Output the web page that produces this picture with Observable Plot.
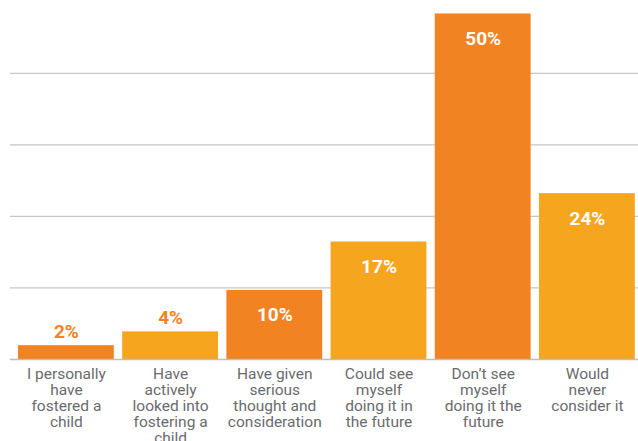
<!DOCTYPE html>
<html>
<head>
<meta charset="utf-8">
<script src="https://cdn.jsdelivr.net/npm/d3@7"></script>
<script src="https://cdn.jsdelivr.net/npm/@observablehq/plot@0.6"></script>
<style>
  html, body { margin: 0; padding: 0; background: #fff; }
  #chart svg { display: block; }
</style>
</head>
<body>
<div id="chart"></div>
<script>
const categories = [
  "I personally\nhave\nfostered a\nchild",
  "Have\nactively\nlooked into\nfostering a\nchild",
  "Have given\nserious\nthought and\nconsideration",
  "Could see\nmyself\ndoing it in\nthe future",
  "Don’t see\nmyself\ndoing it the\nfuture",
  "Would\nnever\nconsider it"
];
const values = [2, 4, 10, 17, 50, 24];
const shades = ["dark", "light", "dark", "light", "dark", "light"];
const gridLevels = [10.35, 20.7, 31.05, 41.4];

const data = categories.map((c, i) => ({cat: c, value: values[i], shade: shades[i], label: values[i] + "%"}));
const DARK = "#F28322", LIGHT = "#F6A51E";

const chart = Plot.plot({
  width: 638,
  height: 441,
  marginTop: 1,
  marginBottom: 82,
  marginLeft: 10,
  marginRight: 0,
  style: {fontFamily: "Roboto, 'Open Sans', sans-serif", background: "#fff"},
  x: {domain: categories, range: [13.8, 639], paddingInner: 0.08, paddingOuter: 0.04, round: false},
  y: {domain: [0, 51.8], axis: null},
  color: {domain: ["dark", "light"], range: [DARK, LIGHT]},
  marks: [
    Plot.ruleY(gridLevels, {stroke: "#c6c6c6", strokeWidth: 1.2}),
    Plot.barY(data, {x: "cat", y: "value", fill: "shade"}),
    Plot.ruleY([0], {stroke: "#bdbdbd", strokeWidth: 1.5}),
    Plot.axisX({tickSize: 0, tickPadding: 8, fontSize: 15.5, lineHeight: 1.035, fill: "#6a6b6e", label: null}),
    Plot.text(data.filter(d => d.value < 5), {x: "cat", y: "value", text: "label", dy: -14, fill: DARK, fontSize: 19, fontWeight: 700}),
    Plot.text(data.filter(d => d.value >= 5), {x: "cat", y: "value", text: "label", dy: 25, fill: "#fff", fontSize: 19, fontWeight: 700})
  ]
});
document.getElementById("chart").append(chart);
</script>
</body>
</html>
